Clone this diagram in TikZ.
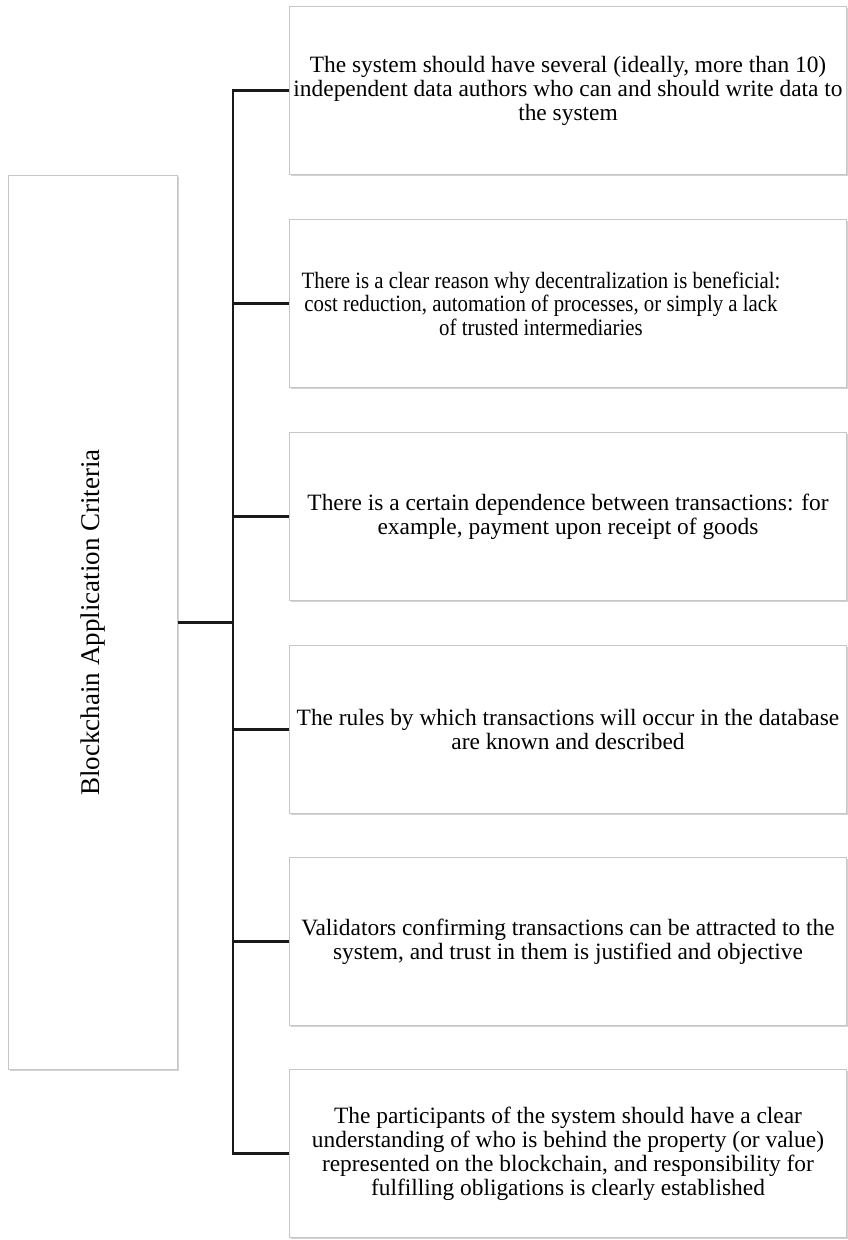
\documentclass[tikz,border=0pt]{standalone}
\usepackage{fontspec}
\setmainfont{Liberation Serif}
\newfontfamily\condensedserif[FakeStretch=0.89]{Liberation Serif}
\usetikzlibrary{shadows}
\begin{document}
\begin{tikzpicture}[x=1pt,y=-1pt,
  crit/.style={draw=gray!45, line width=1pt, fill=white, minimum width=557pt, minimum height=168pt,
     anchor=north west, align=center, inner sep=0pt,
     font=\fontsize{23.4}{24}\selectfont,
     drop shadow={shadow xshift=1.2pt, shadow yshift=-1.8pt, opacity=0.35, fill=gray}},
  smalltext/.style={align=center, inner sep=0pt, font=\condensedserif\fontsize{23.4}{23.5}\selectfont},
  rootbox/.style={draw=gray!45, line width=1pt, fill=white, minimum width=169pt, minimum height=894pt,
     anchor=north west, inner sep=0pt,
     drop shadow={shadow xshift=1.2pt, shadow yshift=-1.8pt, opacity=0.35, fill=gray}},
  link/.style={line width=2.8pt, black!90, line join=miter}]
\useasboundingbox (0,0) rectangle (847,1240);
\node[rootbox] (L) at (8,175) {};
\node[rotate=90, font=\fontsize{27}{30}\selectfont] (Lt) at (L.center) {Blockchain Application Criteria};
\node[crit] (b1) at (289,6) {The system should have several (ideally, more than 10)\\independent data authors who can and should write data to\\the system};
\node[crit] (b2) at (289,219) {};
\node[smalltext] (b2t) at ([xshift=-27pt]b2.center) {There is a clear reason why decentralization is beneficial:\\cost reduction, automation of processes, or simply a lack\\of trusted intermediaries};
\node[crit] (b3) at (289,432) {There is a certain dependence between transactions: for\\example, payment upon receipt of goods};
\node[crit] (b4) at (289,645) {The rules by which transactions will occur in the database\\are known and described};
\node[crit] (b5) at (289,857) {Validators confirming transactions can be attracted to the\\system, and trust in them is justified and objective};
\node[crit] (b6) at (289,1069) {The participants of the system should have a clear\\understanding of who is behind the property (or value)\\represented on the blockchain, and responsibility for\\fulfilling obligations is clearly established};
\coordinate (j) at (233,622.5);
\draw[link] (b1.west) -| (j) |- (b6.west);
\draw[link] (L.east |- j) -- (j);
\foreach \b in {b2,b3,b4,b5} \draw[link] (j |- \b.west) -- (\b.west);
\end{tikzpicture}
\end{document}
